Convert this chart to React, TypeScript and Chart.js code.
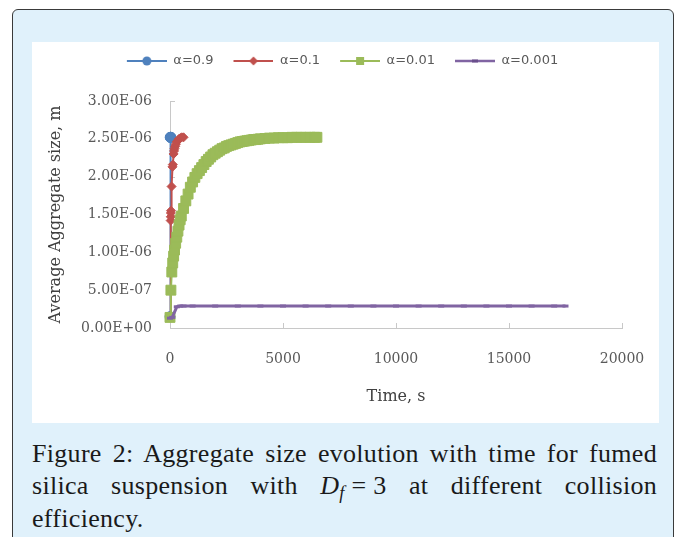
import React, { useEffect, useRef } from 'react';
import { Chart, registerables } from 'chart.js';

Chart.register(...registerables);

// ---------- data ----------
const seriesNames = ['α=0.9', 'α=0.1', 'α=0.01', 'α=0.001'];
const seriesColors = ['#4F81BD', '#C0504D', '#9BBB59', '#8064A2'];

const timeA09 = [0, 10, 20, 30, 40];
const sizeA09 = [1.5e-7, 2.52e-6, 2.52e-6, 2.52e-6, 2.52e-6];

const timeA01 = [0, 30, 35, 40, 45, 70, 110, 125, 160, 180, 200, 230, 260, 300, 350, 400, 460, 520, 600];
const sizeA01 = [
  1.5e-7, 1.42e-6, 1.47e-6, 1.52e-6, 1.55e-6, 1.87e-6, 2.13e-6, 2.16e-6, 2.3e-6, 2.34e-6,
  2.37e-6, 2.4e-6, 2.43e-6, 2.46e-6, 2.48e-6, 2.5e-6, 2.51e-6, 2.52e-6, 2.52e-6,
];

const timeA001 = [
  0, 40, 80, 120, 160, 200, 250, 300, 350, 400, 450, 500,
  600, 700, 800, 900, 1000, 1100, 1200, 1300, 1400, 1500,
  1600, 1700, 1800, 1900, 2000, 2100, 2200, 2300, 2400, 2500,
  2600, 2700, 2800, 2900, 3000, 3100, 3200, 3300, 3400, 3500,
  3600, 3700, 3800, 3900, 4000,
  4200, 4400, 4600, 4800, 5000, 5200, 5400, 5600, 5800, 6000, 6200, 6400,
  6500,
];
const sizeA001 = [
  1.4e-7, 5.0e-7, 7.4e-7, 8.6e-7, 9.5e-7, 1.03e-6, 1.12e-6, 1.2e-6, 1.28e-6, 1.36e-6, 1.43e-6, 1.48e-6,
  1.58e-6, 1.68e-6, 1.77e-6, 1.86e-6, 1.93e-6, 1.99e-6, 2.04e-6, 2.08e-6, 2.12e-6, 2.16e-6,
  2.2e-6, 2.23e-6, 2.26e-6, 2.29e-6, 2.31e-6, 2.33e-6, 2.35e-6, 2.37e-6, 2.38e-6, 2.4e-6,
  2.41e-6, 2.42e-6, 2.43e-6, 2.44e-6, 2.45e-6, 2.46e-6, 2.465e-6, 2.47e-6, 2.475e-6, 2.48e-6,
  2.485e-6, 2.49e-6, 2.49e-6, 2.495e-6, 2.5e-6,
  2.505e-6, 2.51e-6, 2.51e-6, 2.515e-6, 2.515e-6, 2.515e-6, 2.52e-6, 2.52e-6, 2.52e-6, 2.52e-6, 2.52e-6, 2.52e-6,
  2.52e-6,
];

const timeA0001 = [0, 100, 300, 450, 600, 1000, 2000, 3000, 4000, 5000, 6000, 7000, 8000, 9000, 10000, 11000, 12000, 13000, 14000, 15000, 16000, 17000, 17500];
const sizeA0001 = [
  1.3e-7, 1.4e-7, 2.8e-7, 2.9e-7, 2.9e-7, 2.9e-7, 2.9e-7, 2.9e-7, 2.9e-7, 2.9e-7, 2.9e-7, 2.9e-7,
  2.9e-7, 2.9e-7, 2.9e-7, 2.9e-7, 2.9e-7, 2.9e-7, 2.9e-7, 2.9e-7, 2.9e-7, 2.9e-7, 2.9e-7,
];

const xTickLabels = ['0', '5000', '10000', '15000', '20000'];
const yTickLabels = ['0.00E+00', '5.00E-07', '1.00E-06', '1.50E-06', '2.00E-06', '2.50E-06', '3.00E-06'];
const xStep = 5000;
const yStep = 5e-7;

// ---------- styles ----------
const axisColor = '#C8C8C8';
const tickColor = '#595959';
const titleColor = '#404040';
const serif = '"DejaVu Serif", serif';

function toPoints(xs: number[], ys: number[]) {
  return xs.map((x, i) => ({ x, y: ys[i] }));
}

function makeLegendImage(index: number): HTMLCanvasElement {
  const c = document.createElement('canvas');
  c.width = 60;
  c.height = 14;
  const ctx = c.getContext('2d')!;
  const color = seriesColors[index];
  const cy = 7;
  ctx.strokeStyle = color;
  ctx.lineWidth = index === 3 ? 2.5 : 2;
  ctx.beginPath();
  ctx.moveTo(20, cy);
  ctx.lineTo(60, cy);
  ctx.stroke();
  ctx.fillStyle = color;
  const mx = 40;
  if (index === 0) {
    ctx.beginPath();
    ctx.arc(mx, cy, 4.5, 0, Math.PI * 2);
    ctx.fill();
  } else if (index === 1) {
    ctx.beginPath();
    ctx.moveTo(mx - 4.5, cy);
    ctx.lineTo(mx, cy - 4.5);
    ctx.lineTo(mx + 4.5, cy);
    ctx.lineTo(mx, cy + 4.5);
    ctx.closePath();
    ctx.fill();
  } else if (index === 2) {
    ctx.fillRect(mx - 4, cy - 4, 8, 8);
  } else {
    ctx.fillStyle = '#6A4F8C';
    ctx.fillRect(mx - 3, cy - 1.5, 6, 3);
  }
  return c;
}

const innerTicks = {
  id: 'innerTicks',
  beforeDatasetsDraw(chart: any) {
    const { ctx, scales } = chart;
    const x = scales.x;
    const y = scales.y;
    ctx.save();
    ctx.strokeStyle = axisColor;
    ctx.lineWidth = 1;
    ctx.beginPath();
    x.ticks.forEach((t: any) => {
      const px = Math.round(x.getPixelForValue(t.value)) + 0.5;
      ctx.moveTo(px, y.bottom);
      ctx.lineTo(px, y.bottom - 5);
    });
    y.ticks.forEach((t: any) => {
      const py = Math.round(y.getPixelForValue(t.value)) + 0.5;
      ctx.moveTo(x.left, py);
      ctx.lineTo(x.left + 5, py);
    });
    ctx.stroke();
    ctx.restore();
  },
};

function ChartBox() {
  const ref = useRef<HTMLCanvasElement | null>(null);
  useEffect(() => {
    if (!ref.current) return;
    Chart.defaults.font.family = serif;
    const legendImgs = [0, 1, 2, 3].map(makeLegendImage);
    const chart = new Chart(ref.current, {
      type: 'scatter',
      data: {
        datasets: [
          {
            label: seriesNames[0],
            data: toPoints(timeA09, sizeA09),
            showLine: true,
            borderColor: seriesColors[0],
            backgroundColor: seriesColors[0],
            borderWidth: 2,
            pointStyle: 'circle',
            pointRadius: 5,
            pointBorderWidth: 1,
            pointBorderColor: seriesColors[0],
            pointBackgroundColor: seriesColors[0],
            clip: false,
            order: 4,
          },
          {
            label: seriesNames[1],
            data: toPoints(timeA01, sizeA01),
            showLine: true,
            borderColor: seriesColors[1],
            backgroundColor: seriesColors[1],
            borderWidth: 2,
            pointStyle: 'rectRot',
            pointRadius: 4.5,
            pointBorderWidth: 1,
            pointBorderColor: seriesColors[1],
            pointBackgroundColor: seriesColors[1],
            clip: false,
            order: 3,
          },
          {
            label: seriesNames[2],
            data: toPoints(timeA001, sizeA001),
            showLine: true,
            borderColor: seriesColors[2],
            backgroundColor: seriesColors[2],
            borderWidth: 2,
            pointStyle: 'rect',
            pointRadius: 7,
            pointBorderWidth: 1,
            pointBorderColor: seriesColors[2],
            pointBackgroundColor: seriesColors[2],
            clip: false,
            order: 2,
          },
          {
            label: seriesNames[3],
            data: toPoints(timeA0001, sizeA0001),
            showLine: true,
            borderColor: seriesColors[3],
            backgroundColor: seriesColors[3],
            borderWidth: 3,
            pointStyle: 'line',
            pointRadius: 3,
            pointBorderWidth: 3,
            pointBorderColor: seriesColors[3],
            pointBackgroundColor: seriesColors[3],
            clip: false,
            order: 1,
          },
        ] as any,
      },
      options: {
        animation: false,
        responsive: false,
        events: [],
        layout: { padding: { left: 11, right: 37, top: 12.5, bottom: 0 } },
        plugins: {
          legend: {
            display: true,
            position: 'top',
            align: 'center',
            labels: {
              usePointStyle: true,
              pointStyleWidth: 60,
              padding: 0,
              color: tickColor,
              font: { family: '"DejaVu Sans", sans-serif', size: 13 },
              generateLabels: (c: any) => {
                const items = (Chart.defaults.plugins.legend.labels as any).generateLabels(c);
                items.sort((a: any, b: any) => a.datasetIndex - b.datasetIndex);
                items.forEach((it: any) => {
                  it.pointStyle = legendImgs[it.datasetIndex];
                  it.fontColor = tickColor;
                });
                return items;
              },
            },
          } as any,
          title: {
            display: true,
            text: '',
            weight: 500,
            font: { size: 10 },
            padding: { top: 0, bottom: 11.5 },
          } as any,
          tooltip: { enabled: false },
        },
        scales: {
          x: {
            type: 'linear',
            min: 0,
            max: 20000,
            grid: { display: false, drawTicks: true, tickLength: 20 },
            border: { display: true, color: axisColor, width: 1 },
            ticks: {
              stepSize: xStep,
              padding: 3,
              color: tickColor,
              font: { family: serif, size: 14 },
              callback: (v: any) => xTickLabels[Math.round(Number(v) / xStep)] ?? '',
            },
            title: {
              display: true,
              text: 'Time, s',
              color: titleColor,
              font: { family: serif, size: 16 },
              padding: { top: 0, bottom: 16.4 },
            },
            afterFit: (s: any) => {
              s.height = 95;
            },
          },
          y: {
            type: 'linear',
            min: 0,
            max: 3e-6,
            grid: { display: false, drawTicks: false },
            border: { display: true, color: axisColor, width: 1 },
            ticks: {
              stepSize: yStep,
              padding: 18,
              color: tickColor,
              font: { family: serif, size: 14 },
              callback: (v: any) => yTickLabels[Math.round(Number(v) / yStep)] ?? '',
            },
            title: {
              display: true,
              text: 'Average Aggregate size, m',
              color: titleColor,
              font: { family: serif, size: 16 },
              padding: { top: 3.4, bottom: 0 },
            },
            afterFit: (s: any) => {
              s.width = 127;
            },
          },
        },
      } as any,
      plugins: [innerTicks],
    });
    return () => chart.destroy();
  }, []);
  return <canvas ref={ref} width={627} height={381} style={{ display: 'block', width: 627, height: 381 }} />;
}

export default function App() {
  const capFont = '"Liberation Serif", "Times New Roman", serif';
  const lineStyle: React.CSSProperties = { textAlign: 'justify', textAlignLast: 'justify' as any, whiteSpace: 'nowrap' };
  return (
    <div style={{ position: 'fixed', left: 0, top: 0, width: 675, height: 537, background: '#ffffff', overflow: 'hidden' }}>
      <div
        style={{
          position: 'absolute',
          left: 12,
          top: 9,
          width: 662,
          height: 580,
          boxSizing: 'border-box',
          border: '1.5px solid #3a3a3a',
          borderRadius: 6,
          background: '#E0F1FB',
        }}
      />
      <div style={{ position: 'absolute', left: 32, top: 42, width: 627, height: 381, background: '#ffffff' }}>
        <ChartBox />
      </div>
      <div
        style={{
          position: 'absolute',
          left: 32,
          top: 438,
          width: 625,
          fontFamily: capFont,
          fontSize: 26,
          letterSpacing: '0.3px',
          lineHeight: '32px',
          color: '#1a1a1a',
        }}
      >
        <div style={lineStyle}>Figure 2: Aggregate size evolution with time for fumed</div>
        <div style={lineStyle}>
          silica suspension with{' '}
          <span style={{ display: 'inline-block' }}>
            <i>D</i>
            <sub style={{ fontSize: '0.7em', verticalAlign: '-0.3em', lineHeight: 0, fontStyle: 'italic' }}>f</sub> = 3
          </span>{' '}
          at different collision
        </div>
        <div style={{ marginTop: 1 }}>efficiency.</div>
      </div>
    </div>
  );
}
